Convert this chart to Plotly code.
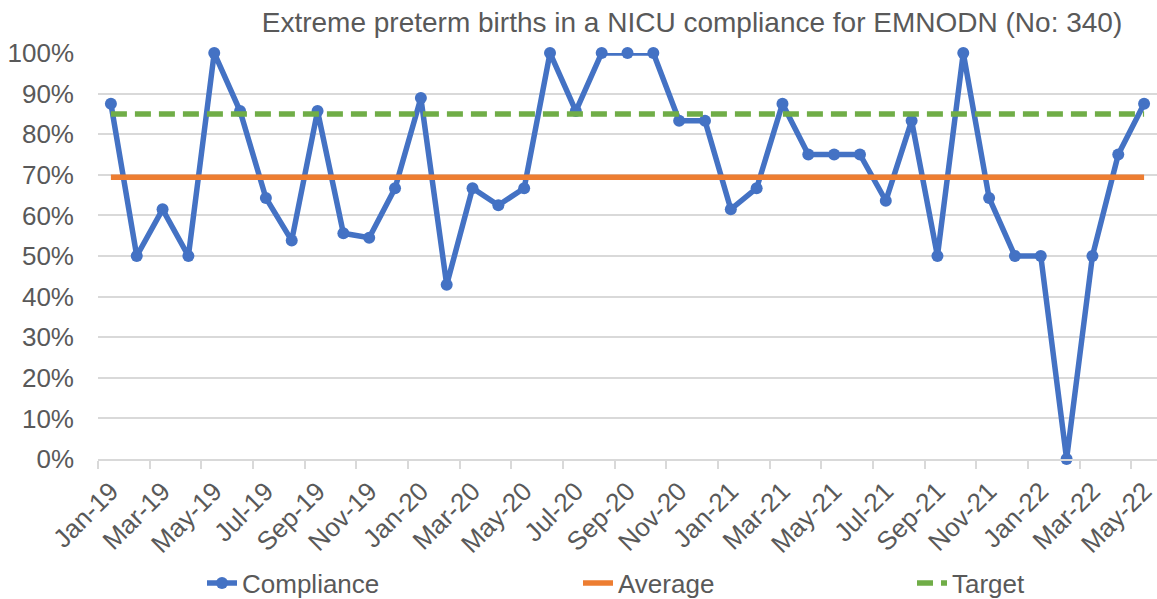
import plotly.graph_objects as go

months = ["Jan-19", "Feb-19", "Mar-19", "Apr-19", "May-19", "Jun-19", "Jul-19", "Aug-19",
          "Sep-19", "Oct-19", "Nov-19", "Dec-19", "Jan-20", "Feb-20", "Mar-20", "Apr-20",
          "May-20", "Jun-20", "Jul-20", "Aug-20", "Sep-20", "Oct-20", "Nov-20", "Dec-20",
          "Jan-21", "Feb-21", "Mar-21", "Apr-21", "May-21", "Jun-21", "Jul-21", "Aug-21",
          "Sep-21", "Oct-21", "Nov-21", "Dec-21", "Jan-22", "Feb-22", "Mar-22", "Apr-22",
          "May-22"]

compliance = [0.875, 0.50, 0.615, 0.50, 1.00, 0.857, 0.643, 0.538,
              0.857, 0.556, 0.545, 0.667, 0.889, 0.429, 0.667, 0.625,
              0.667, 1.00, 0.857, 1.00, 1.00, 1.00, 0.833, 0.833,
              0.615, 0.667, 0.875, 0.75, 0.75, 0.75, 0.636, 0.833,
              0.50, 1.00, 0.643, 0.50, 0.50, 0.00, 0.50, 0.75,
              0.875]

average_value = 0.694
target_value = 0.85
average = [average_value] * len(months)
target = [target_value] * len(months)

title_text = "Extreme preterm births in a NICU compliance for EMNODN (No: 340)"

FONT = "Liberation Sans, Arial, sans-serif"
TXT = "#595959"
GRID = "#D9D9D9"
W, H = 1157, 599

fig = go.Figure()
fig.add_trace(go.Scatter(
    x=months, y=compliance, name="Compliance", mode="lines+markers",
    line=dict(color="#4472C4", width=5.5), marker=dict(size=12, color="#4472C4"),
    cliponaxis=False, legend="legend"))
fig.add_trace(go.Scatter(
    x=months, y=average, name="Average", mode="lines",
    line=dict(color="#ED7D31", width=5.5), cliponaxis=False, legend="legend2"))
fig.add_trace(go.Scatter(
    x=months, y=target, name="Target", mode="lines",
    line=dict(color="#70AD47", width=5.5, dash="16px,8px"), cliponaxis=False, legend="legend3"))

leg_common = dict(orientation="h", xref="container", yref="container",
                  yanchor="middle", xanchor="left", y=1 - 583 / H,
                  font=dict(family=FONT, size=26, color=TXT), bgcolor="rgba(0,0,0,0)")

fig.update_layout(
    width=W, height=H,
    margin=dict(l=98, r=0, t=53, b=140),
    paper_bgcolor="white", plot_bgcolor="white",
    font=dict(family=FONT, size=26, color=TXT),
    title=dict(text=title_text, x=692 / W, xref="container", xanchor="center",
               y=1 - 22 / H, yref="container", yanchor="middle",
               font=dict(family=FONT, size=28, color=TXT)),
    showlegend=True,
    legend=dict(x=(242 - 40) / W, **leg_common),
    legend2=dict(x=(618 - 40) / W, **leg_common),
    legend3=dict(x=(952 - 40) / W, **leg_common),
    xaxis=dict(type="category", tickson="boundaries", dtick=2, tickangle=-45,
               showgrid=False, showline=True, linecolor=GRID, linewidth=1.5,
               ticks="outside", ticklen=8, tickcolor=GRID, tickwidth=1.5,
               ticklabelstandoff=5,
               tickfont=dict(family=FONT, size=26, color=TXT),
               range=[-0.5, len(months) - 0.5], fixedrange=True),
    yaxis=dict(range=[0, 1], dtick=0.1, tickformat=".0%", showgrid=True,
               gridcolor=GRID, gridwidth=1.5, zeroline=False, showline=False,
               ticks="", ticklabelstandoff=23,
               tickfont=dict(family=FONT, size=26, color=TXT), fixedrange=True),
)

fig.write_html("out.html", config={"displayModeBar": False},
               post_script="document.body.style.margin='0';document.body.style.overflow='hidden';")
